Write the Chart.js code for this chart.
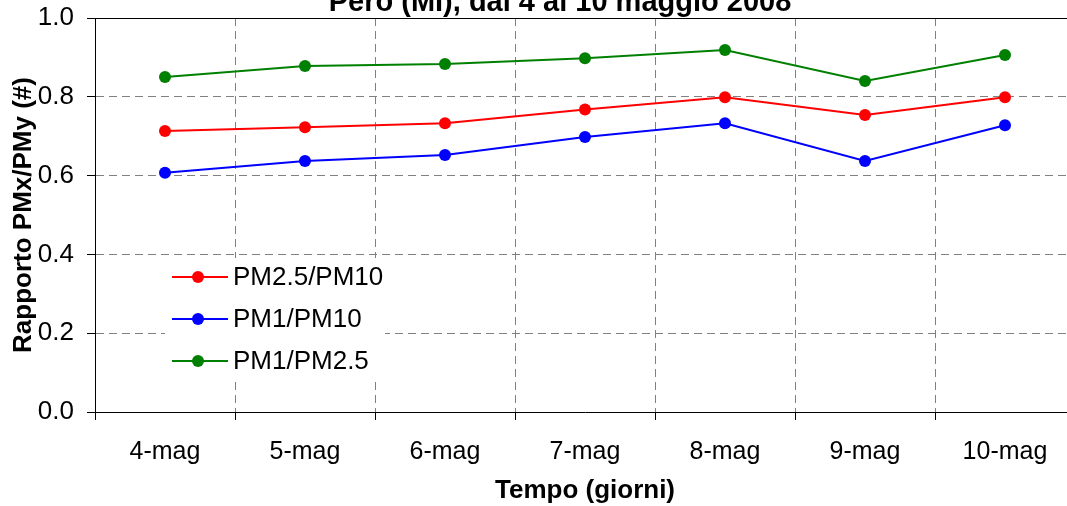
<!DOCTYPE html>
<html>
<head>
<meta charset="utf-8">
<script src="https://cdn.jsdelivr.net/npm/chart.js@4.4.1/dist/chart.umd.min.js"></script>
<style>
  html, body { margin: 0; padding: 0; background: #fff; overflow: hidden; }
  #wrap { position: absolute; left: 0; top: -24px; width: 1120px; height: 530px; }
</style>
</head>
<body>
<div id="wrap"><canvas id="chart"></canvas></div>
<script>
const days = ['4-mag', '5-mag', '6-mag', '7-mag', '8-mag', '9-mag', '10-mag'];
const pm25_pm10 = [0.713, 0.723, 0.733, 0.768, 0.799, 0.754, 0.799];
const pm1_pm10 = [0.607, 0.637, 0.652, 0.698, 0.733, 0.637, 0.728];
const pm1_pm25 = [0.850, 0.878, 0.883, 0.898, 0.919, 0.840, 0.906];

const FONT = "'Liberation Sans', Arial, sans-serif";

// legend drawn inside the plot, line + dot + label like the original
const insideLegend = {
  id: 'insideLegend',
  afterDatasetsDraw(chart) {
    const { ctx, chartArea } = chart;
    const x0 = chartArea.left + 77;
    const y0 = chartArea.top + 259;
    ctx.save();
    ctx.fillStyle = '#fff';
    ctx.fillRect(x0 - 7, y0 - 19, 220, 124);
    chart.data.datasets.forEach((ds, i) => {
      const y = y0 + i * 42;
      ctx.strokeStyle = ds.borderColor;
      ctx.lineWidth = 2;
      ctx.beginPath();
      ctx.moveTo(x0, y);
      ctx.lineTo(x0 + 56, y);
      ctx.stroke();
      ctx.fillStyle = ds.backgroundColor;
      ctx.beginPath();
      ctx.arc(x0 + 26, y, 6, 0, Math.PI * 2);
      ctx.fill();
      ctx.fillStyle = '#000';
      ctx.font = '26px ' + FONT;
      ctx.textBaseline = 'middle';
      ctx.fillText(ds.label, x0 + 61, y + 1);
    });
    ctx.restore();
  }
};

const topBorder = {
  id: 'topBorder',
  beforeDatasetsDraw(chart) {
    const { ctx, chartArea } = chart;
    ctx.save();
    ctx.strokeStyle = '#000';
    ctx.lineWidth = 1;
    ctx.beginPath();
    ctx.moveTo(chartArea.left, chartArea.top + 0.5);
    ctx.lineTo(chartArea.right, chartArea.top + 0.5);
    ctx.stroke();
    ctx.restore();
  }
};

new Chart(document.getElementById('chart'), {
  type: 'line',
  data: {
    labels: days,
    datasets: [
      { label: 'PM2.5/PM10', data: pm25_pm10, borderColor: '#ff0000', backgroundColor: '#ff0000' },
      { label: 'PM1/PM10', data: pm1_pm10, borderColor: '#0000ff', backgroundColor: '#0000ff' },
      { label: 'PM1/PM2.5', data: pm1_pm25, borderColor: '#008000', backgroundColor: '#008000' }
    ]
  },
  options: {
    responsive: true,
    maintainAspectRatio: false,
    animation: false,
    layout: { padding: 0 },
    elements: {
      line: { borderWidth: 2, tension: 0 },
      point: { radius: 6, hoverRadius: 6, borderWidth: 0 }
    },
    plugins: {
      legend: { display: false },
      tooltip: { enabled: false },
      title: {
        display: true,
        text: 'Pero (MI), dal 4 al 10 maggio 2008',
        color: '#000',
        font: { family: FONT, size: 29, weight: 'bold', lineHeight: 1 },
        padding: { top: 12.5, bottom: 0.5 }
      }
    },
    scales: {
      x: {
        offset: true,
        grid: {
          offset: true,
          color: ctx => ctx.index === 0 ? 'rgba(0,0,0,0)' : '#808080',
          tickColor: '#000',
          tickLength: 8
        },
        border: { color: '#000', width: 1, dash: [8, 5] },
        ticks: { color: '#000', padding: 17, font: { family: FONT, size: 25 }, maxRotation: 0 },
        title: {
          display: true,
          text: 'Tempo (giorni)',
          color: '#000',
          font: { family: FONT, size: 26, weight: 'bold' },
          padding: { top: 0, bottom: 0 }
        },
        afterFit: scale => { scale.height = 94; }
      },
      y: {
        min: 0,
        max: 1,
        grid: {
          color: ctx => (ctx.tick && (ctx.tick.value === 0 || ctx.tick.value === 1)) ? 'rgba(0,0,0,0)' : '#808080',
          tickColor: '#000',
          tickLength: 8
        },
        border: { color: '#000', width: 1, dash: [8, 5] },
        ticks: {
          stepSize: 0.2,
          color: '#000',
          padding: 13,
          font: { family: FONT, size: 26 },
          callback: v => v.toFixed(1)
        },
        title: {
          display: true,
          text: 'Rapporto PMx/PMy (#)',
          color: '#000',
          font: { family: FONT, size: 26, weight: 'bold' },
          padding: { top: 8, bottom: 0 }
        },
        afterFit: scale => { scale.width = 95; }
      },
      yRight: {
        position: 'right',
        min: 0,
        max: 1,
        grid: { display: false },
        border: { display: false },
        ticks: { display: false },
        afterFit: scale => { scale.width = 45; }
      }
    }
  },
  plugins: [topBorder, insideLegend]
});
</script>
</body>
</html>
